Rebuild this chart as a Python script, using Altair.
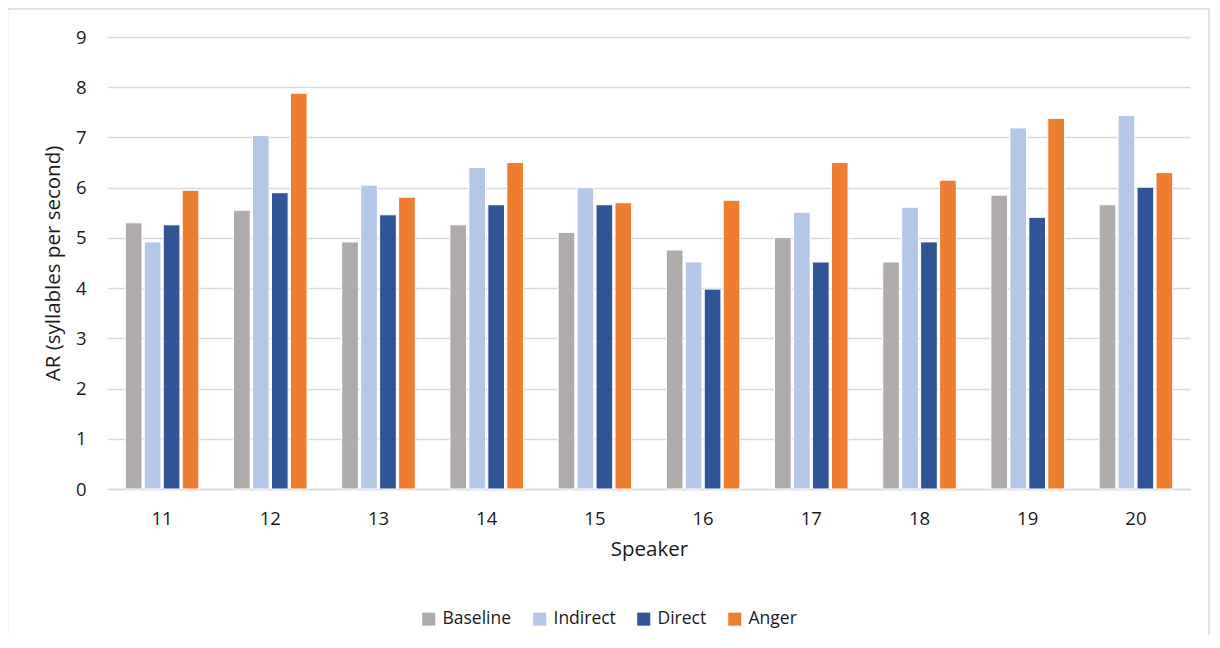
import altair as alt
import pandas as pd

speakers = ["11", "12", "13", "14", "15", "16", "17", "18", "19", "20"]
conditions = ["Baseline", "Indirect", "Direct", "Anger"]
baseline = [5.30, 5.55, 4.92, 5.26, 5.11, 4.76, 5.01, 4.52, 5.85, 5.66]
indirect = [4.92, 7.04, 6.05, 6.40, 6.00, 4.52, 5.51, 5.61, 7.19, 7.44]
direct = [5.26, 5.90, 5.46, 5.66, 5.66, 3.98, 4.52, 4.92, 5.41, 6.01]
anger = [5.95, 7.88, 5.81, 6.50, 5.70, 5.75, 6.50, 6.15, 7.38, 6.30]
colors = ["#AFABAB", "#B4C7E7", "#2F5597", "#ED7D31"]

rows = []
for cond, vals in zip(conditions, [baseline, indirect, direct, anger]):
    for s, v in zip(speakers, vals):
        rows.append({"Speaker": s, "Condition": cond, "AR": v})
df = pd.DataFrame(rows)

FONT = "Open Sans"
TXT = "#1a1a1a"

bars = alt.Chart(df).mark_bar(stroke="white", strokeWidth=1).encode(
    x=alt.X("Speaker:N", sort=speakers,
            scale=alt.Scale(paddingInner=0.32, paddingOuter=0.16),
            axis=alt.Axis(title="Speaker", labelAngle=0, labelFontSize=18.5, titleFontSize=20.5,
                          labelPadding=20, titlePadding=12, ticks=False,
                          domainColor="#D9D9D9", domainWidth=1.5, titleFontWeight="normal",
                          labelColor=TXT, titleColor=TXT)),
    xOffset=alt.XOffset("Condition:N", sort=conditions,
                        scale=alt.Scale(paddingInner=0.12)),
    y=alt.Y("AR:Q", scale=alt.Scale(domain=[0, 9]),
            axis=alt.Axis(title="AR (syllables per second)", values=list(range(10)),
                          labelFontSize=18.5, titleFontSize=20.5, labelPadding=22,
                          titlePadding=12, ticks=False, domain=False,
                          gridColor="#D9D9D9", gridWidth=1.5, titleFontWeight="normal",
                          labelColor=TXT, titleColor=TXT)),
    color=alt.Color("Condition:N", sort=conditions,
                    scale=alt.Scale(domain=conditions, range=colors),
                    legend=alt.Legend(title=None, orient="none", direction="horizontal",
                                      legendX=312, legendY=573, symbolType="square",
                                      symbolSize=170, symbolStrokeWidth=0,
                                      labelFontSize=17.5, labelColor=TXT,
                                      columnPadding=19, labelOffset=5)),
)

frame = alt.Chart(pd.DataFrame({"a": [0]})).mark_rect(
    fill=None, stroke="#D9D9D9", strokeWidth=1.5
).encode(
    x=alt.value(-100.5), x2=alt.value(1101), y=alt.value(-28), y2=alt.value(680)
)

chart = alt.layer(bars, frame).properties(
    width=1082, height=452,
    autosize=alt.AutoSizeParams(type="none"),
    padding={"left": 100, "top": 29, "right": 20, "bottom": 146},
).configure(font=FONT).configure_view(stroke=None)

chart.save("out.html", embed_options={"renderer": "svg", "actions": False})
